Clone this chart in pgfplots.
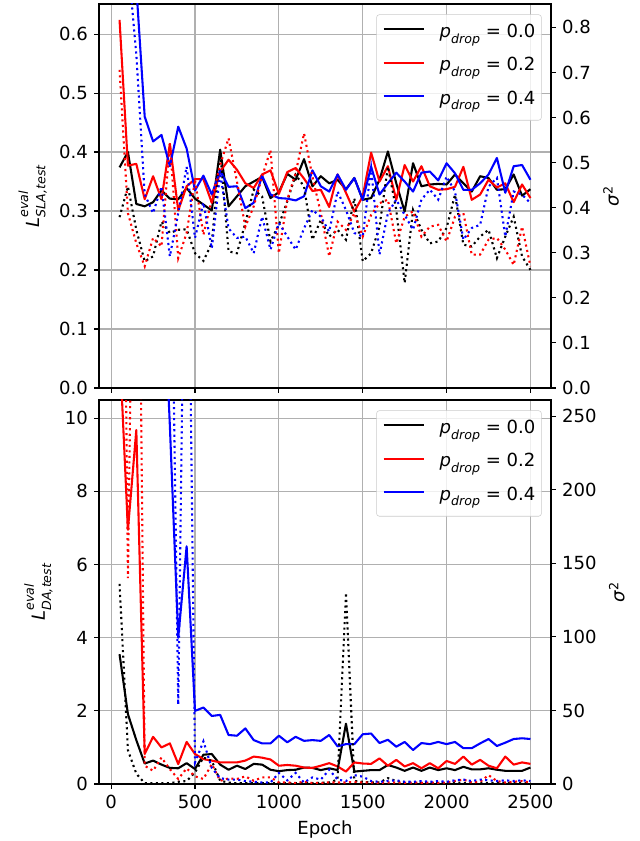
\documentclass[border=0pt]{standalone}
\usepackage{fontspec}
\setmainfont{DejaVu Sans}
\usepackage{pgfplots}
\usepackage{pgfplotstable}
\pgfplotsset{compat=1.18}

\pgfplotstableread{
x k r b kv rv bv
50 0.374 0.624 1.00 0.379 0.706 1.10
100 0.400 0.377 0.85 0.447 0.388 0.95
150 0.312 0.380 0.68 0.351 0.321 0.74
200 0.308 0.320 0.460 0.281 0.270 0.43
250 0.315 0.359 0.418 0.292 0.333 0.388
300 0.335 0.320 0.429 0.369 0.314 0.447
350 0.321 0.414 0.376 0.344 0.543 0.292
400 0.320 0.301 0.443 0.351 0.288 0.388
450 0.339 0.342 0.406 0.352 0.344 0.491
500 0.321 0.354 0.335 0.299 0.462 0.333
550 0.311 0.354 0.360 0.282 0.340 0.411
600 0.301 0.314 0.328 0.321 0.418 0.310
650 0.404 0.367 0.369 0.525 0.495 0.477
700 0.308 0.387 0.341 0.303 0.554 0.354
750 0.325 0.370 0.342 0.299 0.458 0.333
800 0.342 0.347 0.305 0.366 0.358 0.336
850 0.350 0.339 0.314 0.440 0.403 0.299
900 0.358 0.362 0.360 0.425 0.469 0.380
950 0.322 0.369 0.328 0.325 0.528 0.307
1000 0.332 0.329 0.322 0.362 0.299 0.366
1050 0.363 0.366 0.321 0.414 0.418 0.336
1100 0.353 0.373 0.318 0.473 0.477 0.307
1150 0.388 0.355 0.325 0.447 0.565 0.354
1200 0.342 0.334 0.369 0.329 0.469 0.395
1250 0.359 0.336 0.342 0.373 0.388 0.380
1300 0.347 0.307 0.333 0.336 0.292 0.347
1350 0.353 0.362 0.362 0.351 0.369 0.436
1400 0.337 0.331 0.336 0.329 0.351 0.395
1450 0.356 0.299 0.356 0.421 0.388 0.344
1500 0.319 0.325 0.319 0.281 0.336 0.336
1550 0.322 0.399 0.375 0.299 0.384 0.488
1600 0.353 0.350 0.328 0.358 0.410 0.296
1650 0.401 0.376 0.347 0.491 0.418 0.388
1700 0.347 0.319 0.365 0.395 0.321 0.418
1750 0.299 0.378 0.350 0.233 0.380 0.384
1800 0.381 0.350 0.333 0.395 0.392 0.351
1850 0.342 0.376 0.365 0.351 0.336 0.418
1900 0.345 0.342 0.367 0.321 0.358 0.440
1950 0.346 0.336 0.352 0.325 0.362 0.418
2000 0.345 0.337 0.381 0.355 0.325 0.469
2050 0.362 0.341 0.364 0.429 0.380 0.436
2100 0.347 0.375 0.336 0.318 0.388 0.329
2150 0.333 0.319 0.336 0.314 0.296 0.355
2200 0.359 0.328 0.347 0.336 0.296 0.362
2250 0.356 0.353 0.362 0.351 0.329 0.447
2300 0.336 0.340 0.390 0.288 0.333 0.466
2350 0.337 0.347 0.331 0.336 0.307 0.336
2400 0.362 0.315 0.376 0.380 0.273 0.436
2450 0.326 0.345 0.378 0.292 0.358 0.429
2500 0.337 0.322 0.353 0.262 0.270 0.410
}\toptable

\pgfplotstableread{
x k r b kv rv bv
50 3.55 12.0 40 136 700 900
100 1.91 6.95 35 23 140 850
150 1.20 9.68 30 7 580 800
200 0.56 0.82 25 0.5 12.4 750
250 0.64 1.29 20 0.5 9.0 700
300 0.53 1.00 15 0.5 18 600
350 0.44 1.11 9.8 0.5 10.1 450
400 0.43 0.545 4.0 1.5 3.4 54
450 0.57 1.15 6.5 2 10.6 500
500 0.41 0.82 2.0 7.9 5.2 14.6
550 0.80 0.68 2.09 18 3.4 29
600 0.82 0.64 1.86 15.7 13.5 10.9
650 0.53 0.59 1.89 2.2 2.2 4
700 0.39 0.59 1.34 1.0 3.8 3
750 0.50 0.59 1.32 0.5 3.4 3
800 0.41 0.64 1.52 0.5 5.2 2
850 0.55 0.75 1.20 0.5 2.2 1.5
900 0.53 0.72 1.11 0.5 4.5 1
950 0.39 0.67 1.11 0.5 4.5 1
1000 0.35 0.50 1.32 0.5 1.1 7.5
1050 0.38 0.52 1.14 0.5 1.1 2.5
1100 0.39 0.50 1.29 0.5 0.7 7.5
1150 0.45 0.45 1.18 0.5 1.5 1
1200 0.44 0.44 1.20 0.5 0.7 4.5
1250 0.38 0.50 1.18 0.8 0.7 3
1300 0.43 0.57 1.34 1.0 1.1 9.7
1350 0.38 0.48 1.03 3 1 3
1400 1.65 0.34 1.09 130 1 2
1450 0.34 0.59 1.09 2 1.5 6
1500 0.36 0.56 1.36 1.5 1 5
1550 0.38 0.55 1.38 1 1 2
1600 0.38 0.70 1.12 1 0.8 1.5
1650 0.52 0.50 1.21 4 1 2
1700 0.45 0.66 1.02 2 1 2.5
1750 0.36 0.48 1.15 1 0.8 1.5
1800 0.45 0.57 0.93 1 1 1.5
1850 0.36 0.43 1.12 0.8 0.8 2
1900 0.45 0.57 1.09 0.8 1 1.5
1950 0.38 0.43 1.15 0.8 0.8 2
2000 0.43 0.63 1.09 0.8 1 1.5
2050 0.38 0.55 1.15 1 2 2.5
2100 0.47 0.75 0.98 0.8 3 3
2150 0.40 0.53 0.98 0.8 1 2
2200 0.40 0.66 1.11 0.8 1.5 3
2250 0.43 0.50 1.23 0.8 6 2.5
2300 0.39 0.43 1.04 0.8 2 2
2350 0.36 0.75 1.13 0.8 1 2.5
2400 0.36 0.53 1.23 0.8 1.5 2
2450 0.36 0.59 1.25 0.8 2 2.5
2500 0.45 0.55 1.23 0.8 1 2
}\bottable

\newcommand{\scr}{\fontsize{9.1}{9.1}\selectfont}
\newcommand{\Lbl}[1]{\textit{L}\rlap{\raisebox{0.6em}{\scr\textit{eval}}}\raisebox{-0.35em}{\scr\textit{#1}}}
\newcommand{\pd}[1]{\textit{p}\raisebox{-0.3em}{\scr\textit{drop}}\hspace{0.32em}=\hspace{0.32em}#1\hspace{10pt}}
\newcommand{\sig}{\textit{σ}\textsuperscript{2}}

\pgfplotsset{
  base/.style={
    scale only axis, width=325.44pt, height=276.48pt,
    xmin=-72.5, xmax=2622.5,
    tick align=outside, major tick length=3.5pt,
    every tick/.style={black, line width=0.8pt},
    axis line style={line width=0.8pt},
    tick label style={font=\fontsize{13}{15}\selectfont},
    label style={font=\fontsize{13}{15}\selectfont},
    /pgf/number format/assume math mode=true,
    /pgf/number format/1000 sep={},
    scaled ticks=false,
    xtick={0,500,1000,1500,2000,2500},
  },
  leftax/.style={base, xtick pos=bottom, ytick pos=left,
    grid=major, major grid style={color=black!31, line width=0.8pt}},
  rightax/.style={base, axis x line=none, axis y line*=right, ytick pos=right,
    legend style={at={(1,1)}, anchor=north east, xshift=-6.7pt, yshift=-7.5pt,
      draw=black!20, rounded corners=2pt, fill=white, fill opacity=0.8, text opacity=1,
      font=\fontsize{13}{15}\selectfont, inner xsep=4.3pt, inner ysep=6.5pt,
      nodes={inner sep=0pt, text height=10pt, text depth=5pt},
      row sep=9pt,
      /tikz/every odd column/.append style={column sep=10.8pt}},
    legend cell align=left,
    legend image code/.code={\draw[#1] (0pt,3.5pt) -- (28.8pt,3.5pt);}},
  sol/.style={line width=1.5pt, line join=round},
  dot/.style={line width=1.5pt, dash pattern=on 1.5pt off 2.475pt},
  onedec/.style={yticklabel style={/pgf/number format/.cd, fixed, fixed zerofill, precision=1}},
}

\begin{document}
\fontsize{13}{15}\selectfont
\begin{tikzpicture}
\useasboundingbox (0,0) rectangle (460.8pt,605.52pt);

% ---------- top panel ----------
\begin{axis}[leftax, onedec, at={(71.28pt,326.16pt)}, anchor=south west,
  ymin=0, ymax=0.651, ytick={0,0.1,0.2,0.3,0.4,0.5,0.6}, xticklabels={},
  ylabel={\Lbl{SLA,test}}]
\addplot[sol, black] table[x=x, y=k] {\toptable};
\addplot[sol, red] table[x=x, y=r] {\toptable};
\addplot[sol, blue] table[x=x, y=b] {\toptable};
\end{axis}
\begin{axis}[rightax, onedec, at={(71.28pt,326.16pt)}, anchor=south west,
  ymin=0, ymax=0.852, ytick={0,0.1,0.2,0.3,0.4,0.5,0.6,0.7,0.8},
  ylabel={\sig}]
\addplot[dot, black, forget plot] table[x=x, y=kv] {\toptable};
\addplot[dot, red, forget plot] table[x=x, y=rv] {\toptable};
\addplot[dot, blue, forget plot] table[x=x, y=bv] {\toptable};
\addlegendimage{sol, black}\addlegendentry{\pd{0.0}}
\addlegendimage{sol, red}\addlegendentry{\pd{0.2}}
\addlegendimage{sol, blue}\addlegendentry{\pd{0.4}}
\end{axis}

% ---------- bottom panel ----------
\begin{axis}[leftax, at={(71.28pt,41.04pt)}, anchor=south west,
  ymin=0, ymax=10.5, ytick={0,2,4,6,8,10},
  xlabel={Epoch}, ylabel={\Lbl{DA,test}}]
\addplot[sol, black] table[x=x, y=k] {\bottable};
\addplot[sol, red] table[x=x, y=r] {\bottable};
\addplot[sol, blue] table[x=x, y=b] {\bottable};
\end{axis}
\begin{axis}[rightax, at={(71.28pt,41.04pt)}, anchor=south west,
  ymin=0, ymax=261, ytick={0,50,100,150,200,250},
  ylabel={\sig}]
\addplot[dot, black, forget plot] table[x=x, y=kv] {\bottable};
\addplot[dot, red, forget plot] table[x=x, y=rv] {\bottable};
\addplot[dot, blue, forget plot] table[x=x, y=bv] {\bottable};
\addlegendimage{sol, black}\addlegendentry{\pd{0.0}}
\addlegendimage{sol, red}\addlegendentry{\pd{0.2}}
\addlegendimage{sol, blue}\addlegendentry{\pd{0.4}}
\end{axis}
\end{tikzpicture}
\end{document}
